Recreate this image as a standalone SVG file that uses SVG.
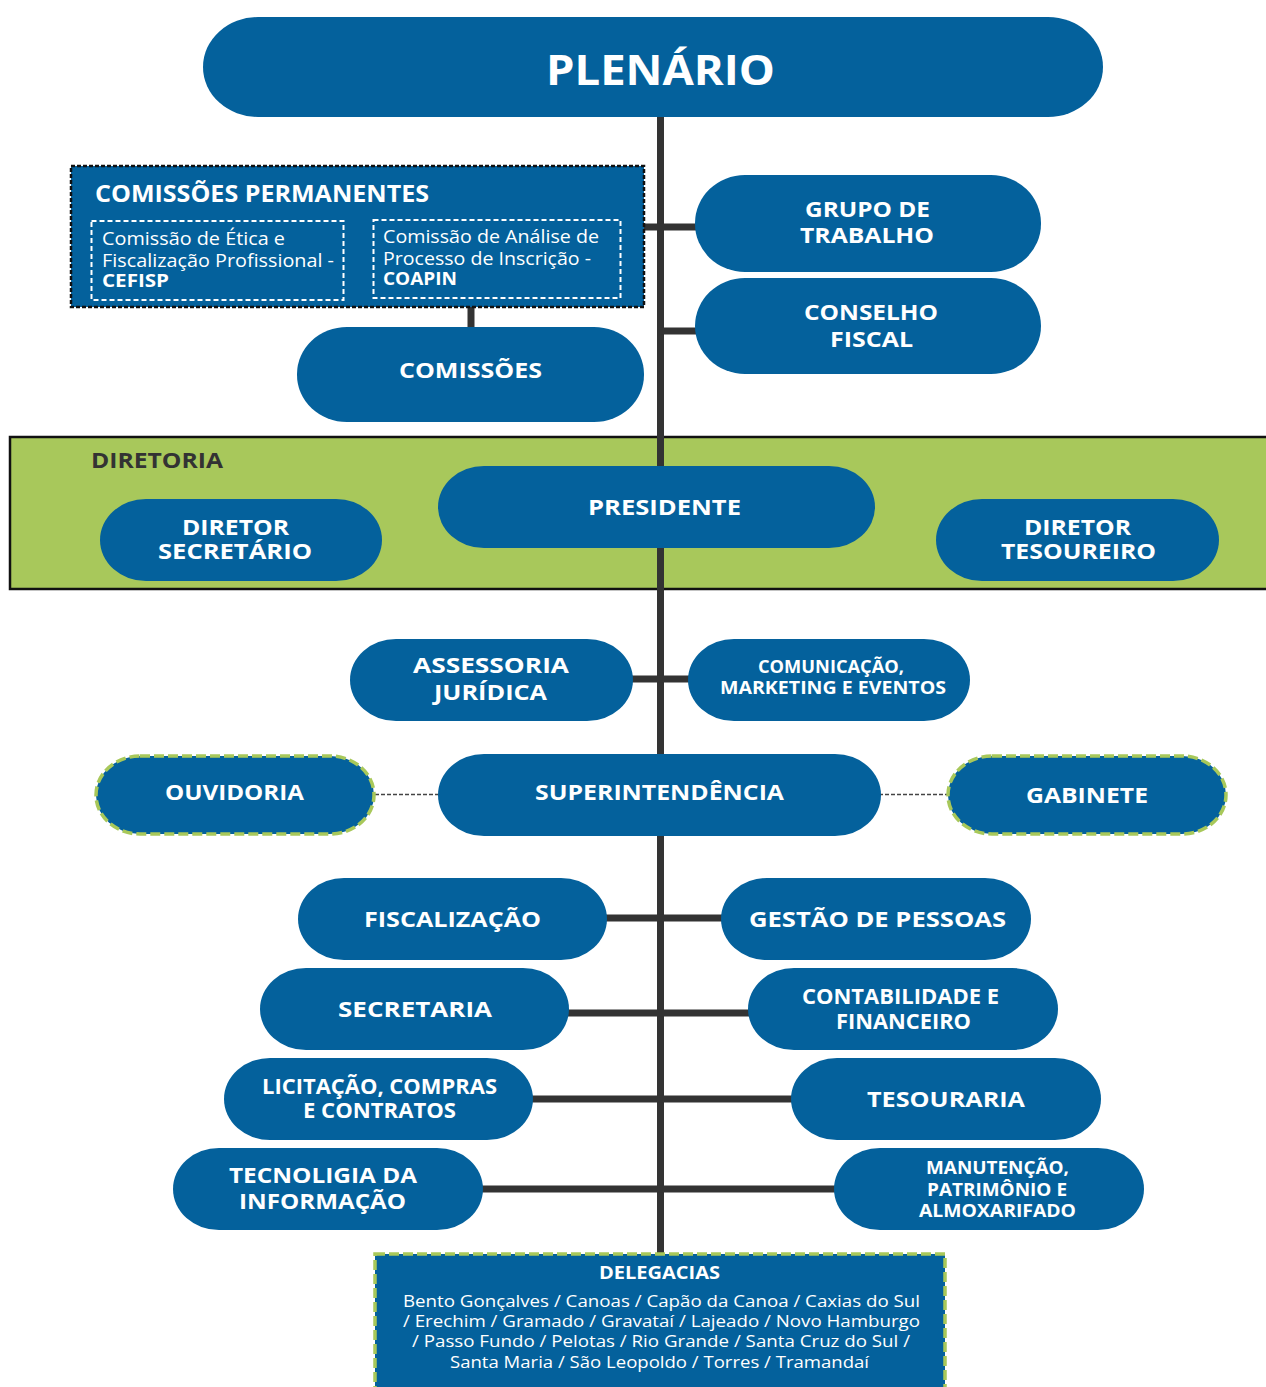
<svg xmlns="http://www.w3.org/2000/svg" width="1266" height="1387" viewBox="0 0 1266 1387">
<style>
.pill{fill:#04619c}
.lbl{fill:#ffffff;font-family:"Open Sans","Liberation Sans",sans-serif;font-weight:700;text-anchor:middle}
.body{fill:#ffffff;font-family:"Open Sans","Liberation Sans",sans-serif;font-weight:400}
.bodyb{fill:#ffffff;font-family:"Open Sans","Liberation Sans",sans-serif;font-weight:700}
.bodyc{fill:#ffffff;font-family:"Open Sans","Liberation Sans",sans-serif;font-weight:400;text-anchor:middle}
.conn{stroke:#333333;stroke-width:7;fill:none}
.dash{stroke:#444444;stroke-width:1.5;stroke-dasharray:4 2;fill:none}
.green{stroke:#a8c85a;stroke-width:3.5;stroke-dasharray:10 4}
</style>
<rect width="1266" height="1387" fill="#ffffff"/>
<g id="diretoria">
<rect x="10" y="437" width="1262" height="152" fill="#a8c85b" stroke="#111111" stroke-width="2.5"/>
<text x="91" y="468" font-family="Open Sans, Liberation Sans, sans-serif" font-weight="700" font-size="22" fill="#333333" textLength="132" lengthAdjust="spacingAndGlyphs">DIRETORIA</text>
</g>
<g id="connectors">
<line class="conn" x1="660.5" y1="110" x2="660.5" y2="1256"/>
<line class="conn" x1="644" y1="227" x2="700" y2="227"/>
<line class="conn" x1="660" y1="331" x2="700" y2="331"/>
<line class="conn" x1="471" y1="305" x2="471" y2="330"/>
<line class="conn" x1="628" y1="679" x2="692" y2="679"/>
<line class="conn" x1="603" y1="918" x2="725" y2="918"/>
<line class="conn" x1="565" y1="1013" x2="752" y2="1013"/>
<line class="conn" x1="529" y1="1099" x2="795" y2="1099"/>
<line class="conn" x1="479" y1="1189" x2="838" y2="1189"/>
<line class="dash" x1="375" y1="794.5" x2="440" y2="794.5"/>
<line class="dash" x1="879" y1="794.5" x2="948" y2="794.5"/>
</g>
<g id="plenario">
<rect class="pill" x="203" y="17" width="900" height="100" rx="55" ry="50"/>
<text class="lbl" x="660.5" y="85" font-size="42" textLength="229" lengthAdjust="spacingAndGlyphs">PLENÁRIO</text>
</g>
<g id="comissoes-permanentes">
<rect x="71" y="166" width="573" height="141" fill="#04619c" stroke="#111111" stroke-width="2.5" stroke-dasharray="4 2"/>
<text x="95" y="202" font-family="Open Sans, Liberation Sans, sans-serif" font-weight="700" font-size="23" fill="#ffffff" textLength="334" lengthAdjust="spacingAndGlyphs">COMISSÕES PERMANENTES</text>
<rect x="91.5" y="221" width="252" height="79" fill="none" stroke="#ffffff" stroke-width="2" stroke-dasharray="5 3"/>
<text class="body" x="102" y="245" font-size="18" textLength="183" lengthAdjust="spacingAndGlyphs">Comissão de Ética e</text>
<text class="body" x="102" y="267" font-size="18" textLength="232" lengthAdjust="spacingAndGlyphs">Fiscalização Profissional -</text>
<text class="bodyb" x="102" y="287" font-size="18" textLength="67" lengthAdjust="spacingAndGlyphs">CEFISP</text>
<rect x="373.5" y="220" width="247" height="78" fill="none" stroke="#ffffff" stroke-width="2" stroke-dasharray="5 3"/>
<text class="body" x="383" y="243" font-size="18" textLength="216" lengthAdjust="spacingAndGlyphs">Comissão de Análise de</text>
<text class="body" x="383" y="265" font-size="18" textLength="208" lengthAdjust="spacingAndGlyphs">Processo de Inscrição -</text>
<text class="bodyb" x="383" y="285" font-size="18" textLength="74" lengthAdjust="spacingAndGlyphs">COAPIN</text>
</g>
<g id="grupo-trabalho">
<rect class="pill" x="695" y="175" width="346" height="97" rx="50" ry="48"/>
<text class="lbl" x="867.5" y="217" font-size="22" textLength="125" lengthAdjust="spacingAndGlyphs">GRUPO DE</text>
<text class="lbl" x="867" y="243" font-size="22" textLength="134" lengthAdjust="spacingAndGlyphs">TRABALHO</text>
</g>
<g id="conselho-fiscal">
<rect class="pill" x="695" y="278" width="346" height="96" rx="50" ry="48"/>
<text class="lbl" x="871" y="320" font-size="22" textLength="134" lengthAdjust="spacingAndGlyphs">CONSELHO</text>
<text class="lbl" x="871.5" y="347" font-size="22" textLength="83" lengthAdjust="spacingAndGlyphs">FISCAL</text>
</g>
<g id="comissoes">
<rect class="pill" x="297" y="327" width="347" height="95" rx="50" ry="47"/>
<text class="lbl" x="470.5" y="378" font-size="22" textLength="143" lengthAdjust="spacingAndGlyphs">COMISSÕES</text>
</g>
<g id="presidente">
<rect class="pill" x="438" y="466" width="437" height="82" rx="46" ry="41"/>
<text class="lbl" x="664.5" y="515" font-size="22" textLength="153" lengthAdjust="spacingAndGlyphs">PRESIDENTE</text>
</g>
<g id="diretor-secretario">
<rect class="pill" x="100" y="499" width="282" height="82" rx="46" ry="41"/>
<text class="lbl" x="235.5" y="535" font-size="22" textLength="107" lengthAdjust="spacingAndGlyphs">DIRETOR</text>
<text class="lbl" x="235" y="559" font-size="22" textLength="154" lengthAdjust="spacingAndGlyphs">SECRETÁRIO</text>
</g>
<g id="diretor-tesoureiro">
<rect class="pill" x="936" y="499" width="283" height="82" rx="46" ry="41"/>
<text class="lbl" x="1077.5" y="535" font-size="22" textLength="107" lengthAdjust="spacingAndGlyphs">DIRETOR</text>
<text class="lbl" x="1078.5" y="559" font-size="22" textLength="155" lengthAdjust="spacingAndGlyphs">TESOUREIRO</text>
</g>
<g id="assessoria-juridica">
<rect class="pill" x="350" y="639" width="283" height="82" rx="46" ry="41"/>
<text class="lbl" x="491" y="673" font-size="22" textLength="156" lengthAdjust="spacingAndGlyphs">ASSESSORIA</text>
<text class="lbl" x="490.5" y="700" font-size="22" textLength="113" lengthAdjust="spacingAndGlyphs">JURÍDICA</text>
</g>
<g id="comunicacao">
<rect class="pill" x="688" y="639" width="282" height="82" rx="46" ry="41"/>
<text class="lbl" x="831" y="673" font-size="18" textLength="146" lengthAdjust="spacingAndGlyphs">COMUNICAÇÃO,</text>
<text class="lbl" x="833" y="694" font-size="18" textLength="226" lengthAdjust="spacingAndGlyphs">MARKETING E EVENTOS</text>
</g>
<g id="superintendencia">
<rect class="pill" x="438" y="754" width="443" height="82" rx="46" ry="41"/>
<text class="lbl" x="659.5" y="800" font-size="22" textLength="249" lengthAdjust="spacingAndGlyphs">SUPERINTENDÊNCIA</text>
</g>
<g id="ouvidoria">
<rect class="pill green" x="96" y="756" width="278" height="78" rx="44" ry="39"/>
<text class="lbl" x="234.5" y="800" font-size="22" textLength="139" lengthAdjust="spacingAndGlyphs">OUVIDORIA</text>
</g>
<g id="gabinete">
<rect class="pill green" x="948" y="756" width="278" height="78" rx="44" ry="39"/>
<text class="lbl" x="1087" y="803" font-size="22" textLength="122" lengthAdjust="spacingAndGlyphs">GABINETE</text>
</g>
<g id="fiscalizacao">
<rect class="pill" x="298" y="878" width="309" height="82" rx="46" ry="41"/>
<text class="lbl" x="452.5" y="927" font-size="22" textLength="177" lengthAdjust="spacingAndGlyphs">FISCALIZAÇÃO</text>
</g>
<g id="gestao-pessoas">
<rect class="pill" x="721" y="878" width="310" height="82" rx="46" ry="41"/>
<text class="lbl" x="877.5" y="927" font-size="22" textLength="257" lengthAdjust="spacingAndGlyphs">GESTÃO DE PESSOAS</text>
</g>
<g id="secretaria">
<rect class="pill" x="260" y="968" width="309" height="82" rx="46" ry="41"/>
<text class="lbl" x="415" y="1017" font-size="22" textLength="154" lengthAdjust="spacingAndGlyphs">SECRETARIA</text>
</g>
<g id="contabilidade">
<rect class="pill" x="748" y="968" width="310" height="82" rx="46" ry="41"/>
<text class="lbl" x="900.5" y="1004" font-size="21" textLength="197" lengthAdjust="spacingAndGlyphs">CONTABILIDADE E</text>
<text class="lbl" x="903.5" y="1029" font-size="21" textLength="135" lengthAdjust="spacingAndGlyphs">FINANCEIRO</text>
</g>
<g id="licitacao">
<rect class="pill" x="224" y="1058" width="309" height="82" rx="46" ry="41"/>
<text class="lbl" x="379.5" y="1094" font-size="21" textLength="235" lengthAdjust="spacingAndGlyphs">LICITAÇÃO, COMPRAS</text>
<text class="lbl" x="379.5" y="1118" font-size="21" textLength="153" lengthAdjust="spacingAndGlyphs">E CONTRATOS</text>
</g>
<g id="tesouraria">
<rect class="pill" x="791" y="1058" width="310" height="82" rx="46" ry="41"/>
<text class="lbl" x="946" y="1107" font-size="22" textLength="158" lengthAdjust="spacingAndGlyphs">TESOURARIA</text>
</g>
<g id="tecnologia">
<rect class="pill" x="173" y="1148" width="310" height="82" rx="46" ry="41"/>
<text class="lbl" x="323" y="1183" font-size="22" textLength="188" lengthAdjust="spacingAndGlyphs">TECNOLIGIA DA</text>
<text class="lbl" x="322.5" y="1209" font-size="22" textLength="167" lengthAdjust="spacingAndGlyphs">INFORMAÇÃO</text>
</g>
<g id="manutencao">
<rect class="pill" x="834" y="1148" width="310" height="82" rx="46" ry="41"/>
<text class="lbl" x="997.5" y="1174" font-size="18" textLength="143" lengthAdjust="spacingAndGlyphs">MANUTENÇÃO,</text>
<text class="lbl" x="997" y="1196" font-size="18" textLength="140" lengthAdjust="spacingAndGlyphs">PATRIMÔNIO E</text>
<text class="lbl" x="997.5" y="1217" font-size="18" textLength="157" lengthAdjust="spacingAndGlyphs">ALMOXARIFADO</text>
</g>
<g id="delegacias">
<rect class="green" x="375" y="1254" width="570" height="145" fill="#04619c"/>
<text class="lbl" x="659.5" y="1279" font-size="17" textLength="121" lengthAdjust="spacingAndGlyphs">DELEGACIAS</text>
<text class="bodyc" x="661.5" y="1307" font-size="17" textLength="517" lengthAdjust="spacingAndGlyphs">Bento Gonçalves / Canoas / Capão da Canoa / Caxias do Sul</text>
<text class="bodyc" x="661.5" y="1327" font-size="17" textLength="517" lengthAdjust="spacingAndGlyphs">/ Erechim / Gramado / Gravataí / Lajeado / Novo Hamburgo</text>
<text class="bodyc" x="661" y="1347" font-size="17" textLength="498" lengthAdjust="spacingAndGlyphs">/ Passo Fundo / Pelotas / Rio Grande / Santa Cruz do Sul /</text>
<text class="bodyc" x="659.5" y="1368" font-size="17" textLength="419" lengthAdjust="spacingAndGlyphs">Santa Maria / São Leopoldo / Torres / Tramandaí</text>
</g>
</svg>
